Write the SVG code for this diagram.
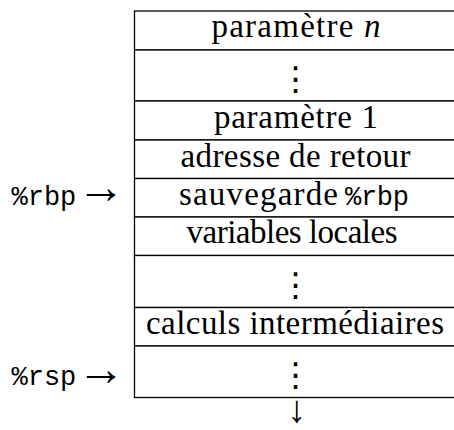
<svg xmlns="http://www.w3.org/2000/svg" width="454" height="430" viewBox="0 0 454 430">
<style>
.cell{fill:#fff;stroke:#000;stroke-width:1.3}
.t{font-family:"Liberation Serif","Times New Roman",serif;font-size:33px;fill:#000;text-anchor:middle}
.m{font-family:"Liberation Mono","Courier New",monospace;font-size:27px;fill:#000}
.ar{font-family:"Liberation Serif","DejaVu Serif",serif;font-size:48px;fill:#000}
.dn{font-family:"Liberation Serif","DejaVu Serif",serif;font-size:38px;fill:#000;text-anchor:middle}
.vd{font-family:"Noto Sans CJK SC","DejaVu Sans",sans-serif;font-size:33px;fill:#000;text-anchor:middle}
</style>
<rect width="454" height="430" fill="#fff"/>
<g id="row1"><rect class="cell" x="134.5" y="11" width="322" height="39"/><text class="t" x="296" y="37" textLength="169">paramètre <tspan font-style="italic">n</tspan></text></g>
<g id="row2"><rect class="cell" x="134.5" y="50" width="322" height="51"/><text class="vd" x="295.5" y="90">⋮</text></g>
<g id="row3"><rect class="cell" x="134.5" y="101" width="322" height="39"/><text class="t" x="296" y="128" textLength="164">paramètre 1</text></g>
<g id="row4"><rect class="cell" x="134.5" y="140" width="322" height="38.5"/><text class="t" x="295.5" y="166.5" textLength="230">adresse de retour</text></g>
<g id="row5"><rect class="cell" x="134.5" y="178.5" width="322" height="38.5"/><text class="t" x="179" y="204.5" textLength="159" style="text-anchor:start">sauvegarde</text><text class="m" x="345" y="204.5" textLength="64">%rbp</text></g>
<g id="row6"><rect class="cell" x="134.5" y="217" width="322" height="38.5"/><text class="t" x="292" y="242.5" textLength="211">variables locales</text></g>
<g id="row7"><rect class="cell" x="134.5" y="255.5" width="322" height="52"/><text class="vd" x="295.5" y="296">⋮</text></g>
<g id="row8"><rect class="cell" x="134.5" y="307.5" width="322" height="38.5"/><text class="t" x="295" y="334" textLength="298">calculs intermédiaires</text></g>
<g id="row9"><rect class="cell" x="134.5" y="346" width="322" height="51.5"/><text class="vd" x="295.5" y="386">⋮</text></g>
<g id="pointers">
<g id="rbp"><text class="m" x="11.5" y="204.5">%rbp</text><text class="ar" x="77" y="202.5">→</text></g>
<g id="rsp"><text class="m" x="11.5" y="385">%rsp</text><text class="ar" x="77" y="384.5">→</text></g>
<g id="growth"><text class="dn" x="296.5" y="421.5">↓</text></g>
</g>
</svg>
